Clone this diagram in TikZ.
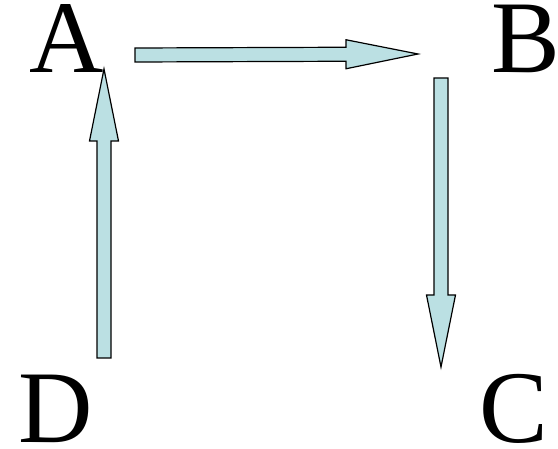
\documentclass[tikz,border=0pt]{standalone}
\usepackage{fontspec}
\setmainfont{Liberation Serif}
\usetikzlibrary{calc}
\definecolor{ArrowFill}{RGB}{187,224,227}

\tikzset{
  letter/.style={inner sep=0pt, anchor=base, font=\fontsize{103}{103}\selectfont},
  blockarrow/.style={draw=black, fill=ArrowFill, line width=1.2pt, line join=miter,
    to path={
      ($(\tikztostart)!7pt!90:(\tikztotarget)$)
      -- ($(\tikztotarget)!72pt!(\tikztostart)!7pt!-90:(\tikztostart)$)
      -- ($(\tikztotarget)!72pt!(\tikztostart)!14.5pt!-90:(\tikztostart)$)
      -- (\tikztotarget)
      -- ($(\tikztotarget)!72pt!(\tikztostart)!14.5pt!90:(\tikztostart)$)
      -- ($(\tikztotarget)!72pt!(\tikztostart)!7pt!90:(\tikztostart)$)
      -- ($(\tikztostart)!7pt!-90:(\tikztotarget)$)
      -- cycle}}
}

\begin{document}
\begin{tikzpicture}[x=1pt,y=1pt]
  \useasboundingbox (0,0) rectangle (558,-449);
  % corner letters
  \node[letter] (A) at (67,-73) {A};
  \node[letter] (B) at (526,-73) {B};
  \node[letter] (C) at (514,-443) {C};
  \node[letter] (D) at (56,-443) {D};
  % block arrows round the square
  \draw[blockarrow] ([shift={(68,18)}]A.base) to ([shift={(-108,19)}]B.base);
  \draw[blockarrow] ([shift={(-85,-5)}]B.base) to ([shift={(-73,76)}]C.base);
  \draw[blockarrow] ([shift={(48,85)}]D.base) to ([shift={(37,4)}]A.base);
\end{tikzpicture}
\end{document}
